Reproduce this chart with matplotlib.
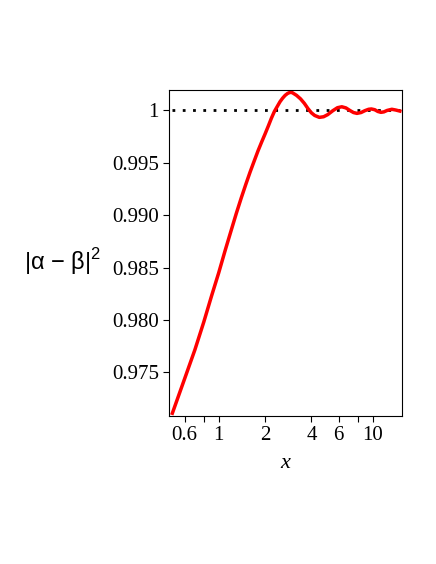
import matplotlib
matplotlib.use("Agg")
import matplotlib.pyplot as plt

# values
x_vals = [0.50, 0.55, 0.60, 0.65, 0.70, 0.80, 0.90, 1.00, 1.10, 1.20, 1.30,
          1.40, 1.50, 1.60, 1.70, 1.80, 1.90, 2.00, 2.10, 2.20, 2.30, 2.40,
          2.50, 2.60, 2.70, 2.80, 2.90, 3.00, 3.20, 3.40, 3.60, 3.80, 4.00,
          4.20, 4.50, 4.80, 5.10, 5.50, 5.90, 6.30, 6.70, 7.10, 7.50, 7.90,
          8.40, 8.90, 9.40, 9.80, 10.3, 10.8, 11.3, 11.8, 12.4, 13.3, 14.1,
          15.0]
y_vals = [0.97111, 0.97282, 0.97438, 0.97582, 0.97715, 0.97981, 0.98233,
          0.98450, 0.98661, 0.98846, 0.99015, 0.99163, 0.99294, 0.99412,
          0.99516, 0.99613, 0.99697, 0.99774, 0.99850, 0.99925, 0.99989,
          1.00036, 1.00081, 1.00115, 1.00142, 1.00160, 1.00170, 1.00168,
          1.00142, 1.00108, 1.00065, 1.00015, 0.99975, 0.99950, 0.99932,
          0.99938, 0.99958, 0.99995, 1.00024, 1.00033, 1.00022, 0.99998,
          0.99978, 0.99970, 0.99978, 0.99996, 1.00009, 1.00012, 1.00005,
          0.99988, 0.99980, 0.99984, 0.99998, 1.00009, 1.00002, 0.99992]

x_ticks = [0.6, 0.8, 1, 2, 4, 6, 8, 10]
x_ticklabels = ["0.6", "", "1", "2", "4", "6", "", "10"]
y_ticks = [0.975, 0.980, 0.985, 0.990, 0.995, 1.0]
y_ticklabels = ["0.975", "0.980", "0.985", "0.990", "0.995", "1"]

plt.rcParams["font.family"] = ["Liberation Serif", "DejaVu Serif"]
plt.rcParams["mathtext.fontset"] = "custom"
plt.rcParams["mathtext.rm"] = "Liberation Sans"

fig = plt.figure(figsize=(4.36, 5.64), dpi=100)
ax = fig.add_axes([169 / 436, 1 - 416 / 564, (402.3 - 169) / 436, (416 - 90.3) / 564])

ax.plot([x_vals[0], x_vals[-1]], [1, 1], color="black", lw=2,
        linestyle=(0, (1, 2.7)), dash_capstyle="butt")
ax.plot(x_vals, y_vals, color="red", lw=2.5)

ax.set_xscale("log")
ax.set_xlim(0.4756, 15.56)
ax.set_ylim(0.97085, 1.0019)
ax.set_xticks(x_ticks)
ax.set_xticklabels(x_ticklabels)
ax.xaxis.set_minor_locator(matplotlib.ticker.NullLocator())
ax.set_yticks(y_ticks)
ax.set_yticklabels(y_ticklabels)
ax.tick_params(direction="out", length=4.3, width=0.8, labelsize=15, pad=3)

for s in ax.spines.values():
    s.set_linewidth(0.8)

fig.text(285 / 436, 1 - 464 / 564, "x", fontsize=16, style="italic",
         ha="center", va="center")
fig.text(63 / 436, 1 - 262 / 564, "|α − β|$^\\mathrm{2}$", fontsize=17,
         ha="center", va="center", family=["Liberation Sans"])

fig.savefig("out.png", dpi=100)
